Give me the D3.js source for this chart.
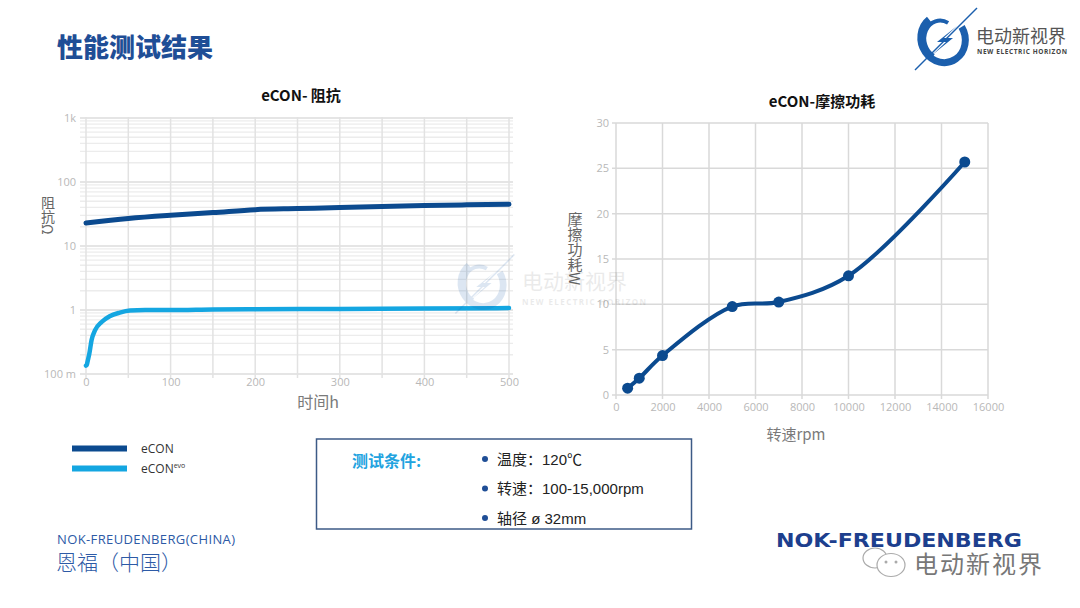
<!DOCTYPE html>
<html><head><meta charset="utf-8">
<script src="https://cdn.jsdelivr.net/npm/d3@7"></script>
<style>body{margin:0;background:#fff}svg{display:block}</style></head>
<body><svg id="c" width="1080" height="608"></svg>
<script>
// ---------- DATA ----------
const econHours = [0, 50, 100, 150, 200, 250, 300, 350, 400, 450, 500];
const econImpedance = [22.9, 27, 30.3, 33.3, 37, 38.4, 39.8, 41.5, 43, 44, 44.8];
const evoHours = [0, 1, 2, 4, 6.6, 10.6, 18.5, 28, 40, 52, 70, 100, 150, 200, 300, 400, 500];
const evoImpedance = [0.135, 0.14, 0.16, 0.21, 0.34, 0.48, 0.65, 0.8, 0.91, 0.98, 1.0, 1.0, 1.02, 1.03, 1.04, 1.06, 1.07];
const impTicks = [0.1, 1, 10, 100, 1000];
const impTickLabels = ["100 m", "1", "10", "100", "1k"];
const hourTicks = [0, 100, 200, 300, 400, 500];

const speeds = [500, 1000, 2000, 5000, 7000, 10000, 15000];
const frictionLoss = [0.75, 1.85, 4.35, 9.75, 10.25, 13.15, 25.7];
const speedTicks = [0, 2000, 4000, 6000, 8000, 10000, 12000, 14000, 16000];
const lossTicks = [0, 5, 10, 15, 20, 25, 30];

const legendNames = ["eCON", "eCON"];
const conditions = ["温度：120℃", "转速：100-15,000rpm", "轴径 ø 32mm"];

const DARK = "#0b4a8f", LIGHT = "#14a6e1";
const svg = d3.select("#c");
const CJK = "'Noto Sans CJK SC', sans-serif";
const SANS = "'Open Sans', 'Noto Sans', sans-serif";

// ---------- HEADER ----------
svg.append("text").attr("x", 57).attr("y", 57).text("性能测试结果")
  .attr("font-family", CJK).attr("font-weight", 900).attr("font-size", 26).attr("fill", "#1f4e96");

function logo(g, cx, cy, s, op) {
  const L = g.append("g").attr("transform", `translate(${cx},${cy}) scale(${s})`).attr("opacity", op);
  L.append("path").attr("d", "M-6,-24 A22,24 0 1,0 22,-6").attr("fill", "none").attr("stroke", "#1b5fad").attr("stroke-width", 7).attr("transform","rotate(-20)");
  L.append("path").attr("d", "M8,-16 A14,16 0 1,0 -12,14").attr("fill", "none").attr("stroke", "#1b5fad").attr("stroke-width", 4).attr("transform","rotate(-10)");
  L.append("line").attr("x1", 34).attr("y1", -32).attr("x2", -28).attr("y2", 30).attr("stroke", "#1b5fad").attr("stroke-width", 1.5);
  L.append("path").attr("d", "M14,-14 L-6,2 L3,2 L-12,16 L10,-2 L1,-2 Z").attr("fill", "#1b5fad");
}
logo(svg, 943, 40, 1, 1);
svg.append("text").attr("x", 976).attr("y", 43).text("电动新视界")
  .attr("font-family", CJK).attr("font-size", 18).attr("fill", "#555").attr("textLength", 90);
svg.append("text").attr("x", 977).attr("y", 54).text("NEW ELECTRIC HORIZON")
  .attr("font-family", SANS).attr("font-weight", 700).attr("font-size", 6.5).attr("fill", "#444").attr("textLength", 90);

// ---------- LEFT CHART ----------
const xL = d3.scaleLinear().domain([0, 500]).range([86, 509]);
const yL = d3.scaleLog().domain([0.1, 1000]).range([374, 118]);
const gL = svg.append("g");
const minor = [];
[0.1, 1, 10, 100].forEach(d => { for (let k = 2; k <= 9; k++) minor.push(d * k); });
gL.selectAll(".mn").data(minor).join("line")
  .attr("x1", 80).attr("x2", 513).attr("y1", d => yL(d)).attr("y2", d => yL(d))
  .attr("stroke", "#ececec").attr("stroke-width", 1.3);
gL.selectAll(".mj").data(impTicks).join("line")
  .attr("x1", 80).attr("x2", 513).attr("y1", d => yL(d)).attr("y2", d => yL(d))
  .attr("stroke", "#dcdcdc").attr("stroke-width", 1.5);
gL.selectAll(".vg").data(d3.range(0, 501, 50)).join("line")
  .attr("x1", d => xL(d)).attr("x2", d => xL(d)).attr("y1", 117).attr("y2", 378)
  .attr("stroke", "#e2e2e2").attr("stroke-width", 1.5);

const axL = gL.append("g").attr("transform", "translate(80,0)")
  .call(d3.axisLeft(yL).tickValues(impTicks).tickFormat((d, i) => impTickLabels[i]).tickSize(0).tickPadding(4));
axL.select(".domain").remove();
axL.selectAll("text").attr("font-family", SANS).attr("font-size", 11).attr("fill", "#b8b8b8");
const axB = gL.append("g").attr("transform", "translate(0,377)")
  .call(d3.axisBottom(xL).tickValues(hourTicks).tickSize(0).tickPadding(1));
axB.select(".domain").remove();
axB.selectAll("text").attr("font-family", SANS).attr("font-size", 11).attr("fill", "#b8b8b8");

const lineL = d3.line().x(d => xL(d[0])).y(d => yL(d[1])).curve(d3.curveMonotoneX);
gL.append("path").datum(econHours.map((h, i) => [h, econImpedance[i]])).attr("d", lineL)
  .attr("fill", "none").attr("stroke", DARK).attr("stroke-width", 5).attr("stroke-linecap", "round");
gL.append("path").datum(evoHours.map((h, i) => [h, evoImpedance[i]])).attr("d", lineL)
  .attr("fill", "none").attr("stroke", LIGHT).attr("stroke-width", 4.5).attr("stroke-linecap", "round");

svg.append("text").attr("x", 301).attr("y", 101).attr("text-anchor", "middle").text("eCON- 阻抗")
  .attr("font-family", CJK).attr("font-weight", 700).attr("font-size", 15).attr("fill", "#111");
svg.append("text").attr("x", 318).attr("y", 408).attr("text-anchor", "middle").text("时间h")
  .attr("font-family", CJK).attr("font-size", 16).attr("fill", "#7a7a7a");
svg.append("text").attr("x", 48).attr("y", 196).text("阻抗Ω").style("writing-mode", "vertical-rl")
  .attr("font-family", CJK).attr("font-size", 14).attr("fill", "#666");

// ---------- RIGHT CHART ----------
const xR = d3.scaleLinear().domain([0, 16000]).range([616, 988]);
const yR = d3.scaleLinear().domain([0, 30]).range([395, 123]);
const gR = svg.append("g");
gR.selectAll(".hg").data(lossTicks).join("line")
  .attr("x1", 612).attr("x2", 988).attr("y1", d => yR(d)).attr("y2", d => yR(d))
  .attr("stroke", "#d9d9d9").attr("stroke-width", 1.5);
gR.selectAll(".vg").data(speedTicks).join("line")
  .attr("x1", d => xR(d)).attr("x2", d => xR(d)).attr("y1", 123).attr("y2", 399)
  .attr("stroke", "#d9d9d9").attr("stroke-width", 1.5);
const axRL = gR.append("g").attr("transform", "translate(612,0)")
  .call(d3.axisLeft(yR).tickValues(lossTicks).tickSize(0).tickPadding(3));
axRL.select(".domain").remove();
axRL.selectAll("text").attr("font-family", SANS).attr("font-size", 11).attr("fill", "#b8b8b8");
const axRB = gR.append("g").attr("transform", "translate(0,401)")
  .call(d3.axisBottom(xR).tickValues(speedTicks).tickFormat(d3.format("d")).tickSize(0).tickPadding(2));
axRB.select(".domain").remove();
axRB.selectAll("text").attr("font-family", SANS).attr("font-size", 11).attr("fill", "#b8b8b8");

const lossPts = speeds.map((s, i) => [s, frictionLoss[i]]);
gR.append("path").datum(lossPts)
  .attr("d", d3.line().x(d => xR(d[0])).y(d => yR(d[1])).curve(d3.curveCatmullRom.alpha(0.5)))
  .attr("fill", "none").attr("stroke", DARK).attr("stroke-width", 4);
gR.selectAll(".pt").data(lossPts).join("circle")
  .attr("cx", d => xR(d[0])).attr("cy", d => yR(d[1])).attr("r", 5.5).attr("fill", DARK);

svg.append("text").attr("x", 822).attr("y", 107).attr("text-anchor", "middle").text("eCON-摩擦功耗")
  .attr("font-family", CJK).attr("font-weight", 700).attr("font-size", 15).attr("fill", "#111");
svg.append("text").attr("x", 796).attr("y", 440).attr("text-anchor", "middle").text("转速rpm")
  .attr("font-family", CJK).attr("font-size", 15).attr("fill", "#7a7a7a");
svg.append("text").attr("x", 575).attr("y", 212).text("摩擦功耗W").style("writing-mode", "vertical-rl")
  .attr("font-family", CJK).attr("font-size", 15).attr("fill", "#666");

// ---------- WATERMARK ----------
logo(svg, 482, 285, 0.95, 0.15);
svg.append("text").attr("x", 522).attr("y", 289).text("电动新视界")
  .attr("font-family", CJK).attr("font-size", 21).attr("fill", "#000").attr("opacity", 0.08);
svg.append("text").attr("x", 522).attr("y", 305).text("NEW ELECTRIC HORIZON")
  .attr("font-family", SANS).attr("font-weight", 700).attr("font-size", 8).attr("fill", "#000").attr("opacity", 0.08).attr("textLength", 124);

// ---------- LEGEND ----------
const legColors = [DARK, LIGHT];
const leg = svg.append("g");
legColors.forEach((c, i) => {
  const y = 448.5 + i * 20;
  leg.append("line").attr("x1", 72).attr("x2", 127).attr("y1", y).attr("y2", y).attr("stroke", c).attr("stroke-width", 6);
  const t = leg.append("text").attr("x", 141).attr("y", y + 4.5).attr("font-family", SANS).attr("font-size", 12).attr("fill", "#333").text(legendNames[i]);
  if (i === 1) t.append("tspan").attr("font-size", 7).attr("dy", -5).text("evo");
});

// ---------- CONDITIONS BOX ----------
svg.append("rect").attr("x", 316.5).attr("y", 439).attr("width", 375).attr("height", 90)
  .attr("fill", "none").attr("stroke", "#3c5a86").attr("stroke-width", 1.5);
svg.append("text").attr("x", 352).attr("y", 467).text("测试条件:")
  .attr("font-family", CJK).attr("font-weight", 700).attr("font-size", 16).attr("fill", "#22a3df");
conditions.forEach((c, i) => {
  const y = 459 + i * 29.5;
  svg.append("circle").attr("cx", 485).attr("cy", y).attr("r", 3).attr("fill", "#1f4e96");
  svg.append("text").attr("x", 497).attr("y", y + 5.5).text(c)
    .attr("font-family", "'Liberation Sans', 'Noto Sans CJK SC', sans-serif").attr("font-size", 15).attr("fill", "#222");
});

// ---------- FOOTER ----------
svg.append("text").attr("x", 57).attr("y", 544).text("NOK-FREUDENBERG(CHINA)")
  .attr("font-family", SANS).attr("font-size", 13).attr("fill", "#2d5aa6").attr("textLength", 178);
svg.append("text").attr("x", 56).attr("y", 570).text("恩福（中国）")
  .attr("font-family", CJK).attr("font-size", 21).attr("font-weight", 300).attr("fill", "#2d5aa6");

svg.append("text").attr("x", 776).attr("y", 547).text("NOK-FREUDENBERG")
  .attr("font-family", "'DejaVu Sans', sans-serif").attr("font-weight", 700).attr("font-size", 19)
  .attr("fill", "#1d3f8e").attr("textLength", 246).attr("lengthAdjust", "spacingAndGlyphs");
// wechat icon
const wc = svg.append("g").attr("fill", "#fff").attr("stroke", "#aaa").attr("stroke-width", 1.2);
wc.append("ellipse").attr("cx", 875).attr("cy", 558).attr("rx", 12).attr("ry", 10);
wc.append("ellipse").attr("cx", 891).attr("cy", 565).attr("rx", 14).attr("ry", 11.5);
wc.append("circle").attr("cx", 886).attr("cy", 562).attr("r", 1.5).attr("fill", "#aaa").attr("stroke", "none");
wc.append("circle").attr("cx", 896).attr("cy", 562).attr("r", 1.5).attr("fill", "#aaa").attr("stroke", "none");
svg.append("text").attr("x", 914).attr("y", 573).text("电动新视界")
  .attr("font-family", CJK).attr("font-size", 24).attr("fill", "#777").attr("stroke", "#fff").attr("stroke-width", 0.6)
  .style("paint-order", "stroke").attr("textLength", 128);
</script></body></html>
